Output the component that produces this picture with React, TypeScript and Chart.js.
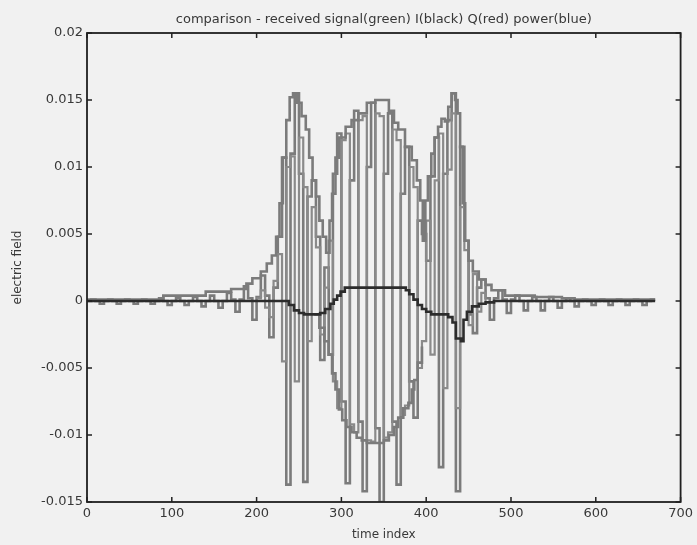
import React, { useEffect, useRef } from 'react';
import { Chart, registerables } from 'chart.js';

Chart.register(...registerables);

const TITLE = 'comparison - received signal(green) I(black) Q(red) power(blue)';
const X_LABEL = 'time index';
const Y_LABEL = 'electric field';

const xTicks = [0, 100, 200, 300, 400, 500, 600, 700];
const yTicks = [-0.015, -0.01, -0.005, 0, 0.005, 0.01, 0.015, 0.02];
const yTickLabels = ['-0.015', '-0.01', '-0.005', '0', '0.005', '0.01', '0.015', '0.02'];

// received signal, one sample every 5 time units starting at 0
const receivedStart = 0;
const receivedStep = 5;
const receivedValues = [
  0, 0.0001, 0, -0.0002,
  0, 0.0001, 0, -0.0002,
  0, 0.0001, 0, -0.0002,
  0, 0.0001, 0, -0.0002,
  0, 0.0002, 0, -0.0003,
  0, 0.0002, 0, -0.0003,
  0, 0.0003, 0, -0.0004,
  0, 0.0004, 0, -0.0005,
  0, 0.0006, 0.0001, -0.0008,
  0.0001, 0.0011, 0.0002, -0.0014,
  0.0003, 0.0019, 0.0004, -0.0027,
  0.0010, 0.0048, 0.0107, -0.0137,
  0.0110, 0.0155, 0.0095, -0.0135,
  0.0078, 0.0090, 0.0048, -0.0044,
  0.0025, -0.0040, 0.0095, 0.0125,
  -0.0075, -0.0136, 0.0090, 0.0142,
  -0.0090, -0.0142, 0.0100, 0.0148,
  -0.0095, -0.0150, 0.0095, 0.0140,
  -0.0090, -0.0137, 0.0080, 0.0115,
  -0.0060, -0.0087, 0.0060, 0.0050,
  0.0030, 0.0093, 0.0122, -0.0124,
  0.0095, 0.0135, 0.0155, -0.0142,
  0.0115, 0.0045, -0.0010, -0.0024,
  0.0010, 0.0016, 0.0002, -0.0014,
  0.0002, 0.0008, 0.0001, -0.0009,
  0.0001, 0.0004, 0, -0.0007,
  0, 0.0003, 0, -0.0007,
  0, 0.0003, 0, -0.0005,
  0, 0.0002, 0, -0.0004,
  0, 0.0001, 0, -0.0003,
  0, 0.0001, 0, -0.0003,
  0, 0.0001, 0, -0.0003,
  0, 0.0001, 0, -0.0003,
  0, 0.0001, 0.0001,
];

// Q component, one sample every 5 time units over the active part
const qStart = 200;
const qStep = 5;
const qValues = [
  0.0002, 0.0008, -0.0005, -0.0012,
  0.0015, 0.0035, -0.0045, 0.0100,
  0.0108, -0.0060, 0.0122, 0.0085,
  -0.0030, 0.0070, 0.0040, -0.0025,
  0.0010, 0.0045, -0.0060, -0.0080,
  0.0120, 0.0125, -0.0092, -0.0098,
  0.0135, 0.0138, -0.0104, -0.0105,
  0.0140, 0.0138, -0.0102, -0.0098,
  0.0128, 0.0120, -0.0085, -0.0078,
  0.0100, 0.0085, -0.0050, -0.0030,
  0.0060, -0.0040, 0.0090, 0.0125,
  -0.0065, 0.0098, 0.0140, -0.0080,
  0.0070, 0.0038, -0.0018, 0.0020,
  -0.0008, 0.0006, 0,
];

// power envelope (stair breakpoints)
const powerTime = [
  0, 90, 140, 170, 188, 195, 205, 212, 218, 223, 227, 231, 235, 239, 243, 248, 253, 258, 262, 266,
  270, 274, 278, 282, 286, 289, 293, 297, 305, 312, 320, 330, 340, 350, 356, 362, 367, 375, 383, 389,
  393, 396, 399, 402, 406, 410, 414, 418, 422, 426, 430, 434, 437, 440, 443, 446, 450, 455, 462, 470,
  477, 493, 528, 560, 575, 670,
];
const powerValues = [
  0.0001, 0.0004, 0.0007, 0.0009, 0.0013, 0.0017, 0.0022, 0.0028, 0.0034, 0.0048, 0.0073, 0.0107, 0.0135, 0.0152, 0.0155, 0.0148, 0.0138, 0.0128, 0.0107, 0.0090,
  0.0078, 0.0060, 0.0048, 0.0036, 0.0060, 0.0080, 0.0107, 0.0122, 0.0130, 0.0135, 0.0140, 0.0148, 0.0150, 0.0150, 0.0142, 0.0133, 0.0128, 0.0115, 0.0105, 0.0090,
  0.0075, 0.0045, 0.0075, 0.0093, 0.0110, 0.0122, 0.0130, 0.0136, 0.0134, 0.0145, 0.0155, 0.0150, 0.0140, 0.0115, 0.0073, 0.0045, 0.0030, 0.0022, 0.0016, 0.0012,
  0.0008, 0.0004, 0.0003, 0.0002, 0.0001, 0.0001,
];

// lower envelope (the U-shaped stair line)
const lowerTime = [268, 274, 280, 285, 289, 293, 297, 301, 306, 312, 318, 324, 330, 344, 350, 356, 362, 367, 373, 379, 383, 386, 390, 395];
const lowerValues = [
  -0.0010, -0.0020, -0.0030, -0.0040, -0.0054, -0.0066, -0.0081, -0.0089, -0.0094, -0.0098, -0.0102, -0.0104,
  -0.0106, -0.0106, -0.0104, -0.0100, -0.0094, -0.0087, -0.0080, -0.0076, -0.0066, -0.0059, -0.0046, -0.0034,
];

// I component (dark line near zero)
const iTime = [
  0, 230, 238, 244, 250, 256, 268, 275, 281, 287, 291, 295, 299, 304, 370, 376, 380, 385, 390, 395,
  400, 406, 420, 426, 431, 435, 441, 444, 448, 454, 462, 470, 480, 670,
];
const iValues = [
  0, 0, -0.0003, -0.0007, -0.0009, -0.0010, -0.0010, -0.0009, -0.0006, -0.0002, 0.0001, 0.0004, 0.0007, 0.0010, 0.0010, 0.0008, 0.0005, 0.0001, -0.0003, -0.0006,
  -0.0008, -0.0010, -0.0010, -0.0012, -0.0016, -0.0028, -0.0030, -0.0014, -0.0008, -0.0004, -0.0002, -0.0001, 0, 0,
];

const BG = '#f1f1f1';
const GRAY = '#7b7b7b';
const GRAY2 = '#8a8a8a';
const DARK = '#2c2c2c';
const TEXT = '#383838';
const FONT_FAMILY = '"DejaVu Sans", "Liberation Sans", Arial, sans-serif';

const pairs = (t: number[], v: number[]) => v.map((y, i) => ({ x: t[i], y }));
const sampled = (start: number, step: number, v: number[]) => v.map((y, i) => ({ x: start + i * step, y }));

export default function App() {
  const canvasRef = useRef<HTMLCanvasElement | null>(null);

  useEffect(() => {
    const canvas = canvasRef.current;
    if (!canvas) return;

    const decor = {
      id: 'decor',
      beforeDraw(chart: any) {
        const { ctx, width, height } = chart;
        ctx.save();
        ctx.fillStyle = BG;
        ctx.fillRect(0, 0, width, height);
        ctx.restore();
      },
      afterDatasetsDraw(chart: any) {
        const { ctx, chartArea: a, scales } = chart;
        ctx.save();
        ctx.strokeStyle = '#202020';
        ctx.lineWidth = 1.8;
        ctx.strokeRect(a.left, a.top, a.right - a.left, a.bottom - a.top);
        ctx.lineWidth = 1.5;
        ctx.beginPath();
        xTicks.forEach((v) => {
          const px = scales.x.getPixelForValue(v);
          ctx.moveTo(px, a.bottom);
          ctx.lineTo(px, a.bottom - 5);
          ctx.moveTo(px, a.top);
          ctx.lineTo(px, a.top + 5);
        });
        yTicks.forEach((v) => {
          const py = scales.y.getPixelForValue(v);
          ctx.moveTo(a.left, py);
          ctx.lineTo(a.left + 5, py);
          ctx.moveTo(a.right, py);
          ctx.lineTo(a.right - 5, py);
        });
        ctx.stroke();
        ctx.restore();
      },
      afterDraw(chart: any) {
        const { ctx, chartArea: a } = chart;
        ctx.save();
        ctx.fillStyle = TEXT;
        ctx.font = `13px ${FONT_FAMILY}`;
        ctx.textAlign = 'center';
        ctx.textBaseline = 'middle';
        ctx.fillText(TITLE, (a.left + a.right) / 2, 20);
        ctx.restore();
      },
    };

    const tickFont = { family: FONT_FAMILY, size: 13 };
    const titleFont = { family: FONT_FAMILY, size: 12 };

    const line = (label: string, data: any[], color: string, width: number) => ({
      label,
      data,
      borderColor: color,
      borderWidth: width,
      stepped: true as const,
      pointRadius: 0,
      fill: false,
    });

    const chart = new Chart(canvas, {
      type: 'line',
      data: {
        datasets: [
          line('I', pairs(iTime, iValues), DARK, 2.6),
          line('power', pairs(powerTime, powerValues), GRAY, 2.6),
          line('lower', pairs(lowerTime, lowerValues), GRAY, 2.6),
          line('Q', sampled(qStart, qStep, qValues), GRAY2, 2.2),
          line('received signal', sampled(receivedStart, receivedStep, receivedValues), GRAY, 2.6),
        ],
      },
      options: {
        animation: false,
        responsive: false,
        events: [],
        layout: { padding: { top: 33, right: 14, left: 0, bottom: 0 } },
        plugins: {
          legend: { display: false },
          tooltip: { enabled: false },
          title: { display: false },
        },
        scales: {
          x: {
            type: 'linear',
            min: 0,
            max: 700,
            afterBuildTicks: (scale: any) => {
              scale.ticks = xTicks.map((value) => ({ value }));
            },
            afterFit: (scale: any) => {
              scale.height = 43;
            },
            ticks: {
              autoSkip: false,
              maxRotation: 0,
              padding: 4,
              color: TEXT,
              font: tickFont,
              callback: (v: any) => String(v),
            },
            grid: { display: false, drawTicks: false },
            border: { display: false },
            title: {
              display: true,
              text: X_LABEL,
              color: TEXT,
              font: titleFont,
              padding: { top: 0, bottom: 3 },
            },
          },
          y: {
            type: 'linear',
            min: -0.015,
            max: 0.02,
            afterBuildTicks: (scale: any) => {
              scale.ticks = yTicks.map((value) => ({ value }));
            },
            afterFit: (scale: any) => {
              scale.width = 87;
            },
            ticks: {
              autoSkip: false,
              padding: 4,
              color: TEXT,
              font: tickFont,
              callback: (v: any) => {
                const idx = yTicks.findIndex((t) => Math.abs(t - Number(v)) < 1e-9);
                return idx >= 0 ? yTickLabels[idx] : '';
              },
            },
            grid: { display: false, drawTicks: false },
            border: { display: false },
            title: {
              display: true,
              text: Y_LABEL,
              color: TEXT,
              font: titleFont,
              padding: { top: 11, bottom: 0 },
            },
          },
        },
      },
      plugins: [decor],
    });

    return () => {
      chart.destroy();
    };
  }, []);

  return (
    <div style={{ position: 'absolute', left: 0, top: 0, width: 697, height: 545, background: BG }}>
      <canvas ref={canvasRef} width={697} height={545} style={{ display: 'block' }} />
    </div>
  );
}
